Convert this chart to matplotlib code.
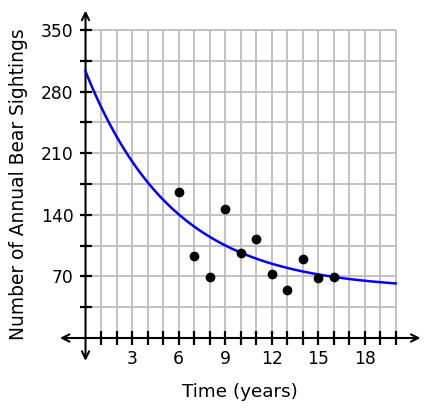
import numpy as np
import matplotlib
matplotlib.use("Agg")
import matplotlib.pyplot as plt
from matplotlib.ticker import MultipleLocator

# observed sightings
years = [6, 7, 8, 9, 10, 11, 12, 13, 14, 15, 16]
sightings = [166, 93, 69, 147, 97, 112, 73, 54, 90, 68, 69]

# fitted decay model y = c + a*exp(-k*t)
fit_a = 248.2
fit_c = 54.8
fit_k = 0.177

x_ticks = [3, 6, 9, 12, 15, 18]
y_ticks = [70, 140, 210, 280, 350]

fig = plt.figure(figsize=(4.28, 4.11), dpi=100)
ax = fig.add_axes([0.1346, 0.1134, 0.8551, 0.8671])
ax.set_xlim(-1.8, 21.8)
ax.set_ylim(-30, 375)

# grid
grid_col = "#bdbdbd"
ax.vlines(np.arange(1, 21), 0, 350, color=grid_col, lw=1.3, zorder=1)
ax.hlines(np.arange(35, 351, 35), 0, 20, color=grid_col, lw=1.3, zorder=1)

# axes with arrows
for sp in ax.spines.values():
    sp.set_color("none")
ax.spines["left"].set_position(("data", 0))
ax.spines["bottom"].set_position(("data", 0))
ax.annotate("", xy=(21.6, 0), xytext=(-1.65, 0),
            arrowprops=dict(arrowstyle="<->", lw=1.5, color="black",
                            mutation_scale=13, shrinkA=0, shrinkB=0))
ax.annotate("", xy=(0, 372), xytext=(0, -26),
            arrowprops=dict(arrowstyle="<->", lw=1.5, color="black",
                            mutation_scale=13, shrinkA=0, shrinkB=0))

ax.set_xticks(x_ticks)
ax.set_yticks(y_ticks)
ax.set_xticks(np.arange(1, 21), minor=True)
ax.set_yticks(np.arange(35, 351, 35), minor=True)
ax.tick_params(axis="x", which="both", direction="inout", length=10, width=1.6, labelsize=12.3, pad=4)
ax.tick_params(axis="y", which="both", direction="inout", length=9, width=1.6, labelsize=12.3, pad=4)

# curve and points
t = np.linspace(0, 20, 200)
ax.plot(t, fit_c + fit_a * np.exp(-fit_k * t), color="#0000ff", lw=1.8, zorder=3)
ax.plot(years, sightings, "o", color="black", ms=6, zorder=4)

fig.text(0.561, 0.046, "Time (years)", ha="center", va="center", fontsize=13.2)
fig.text(0.043, 0.552, "Number of Annual Bear Sightings", ha="center", va="center",
         rotation=90, fontsize=13.4)

fig.savefig("out.png", dpi=100)
